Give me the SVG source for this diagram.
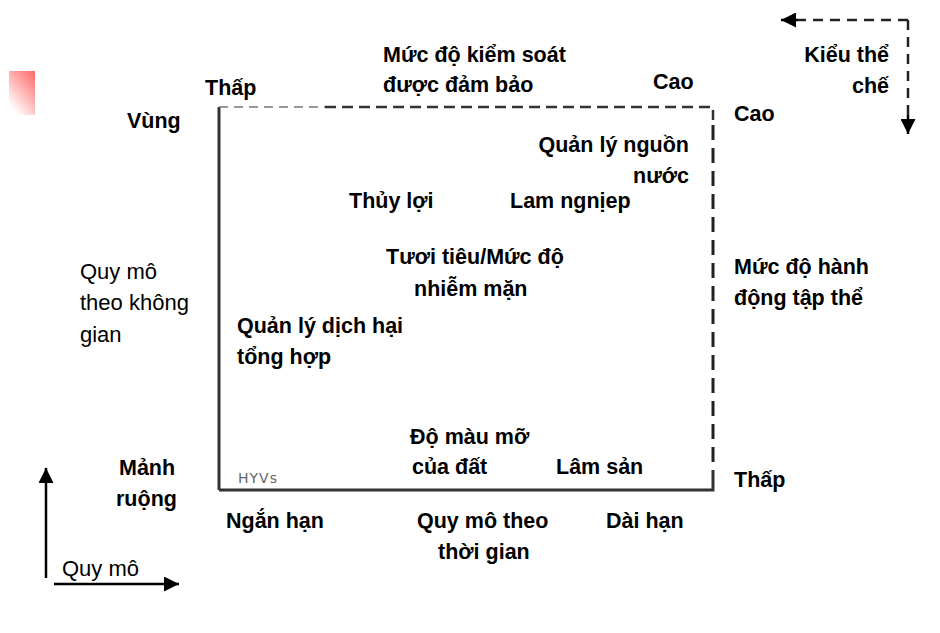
<svg xmlns="http://www.w3.org/2000/svg" width="940" height="633" viewBox="0 0 940 633">
<style>
.b{font-family:"Liberation Sans",Arial,sans-serif;font-weight:bold;font-size:21.5px;fill:#000}
.r{font-family:"Liberation Sans",Arial,sans-serif;font-size:22px;fill:#000}
.e{text-anchor:end}
.g{font-family:"DejaVu Sans","Liberation Sans",sans-serif;font-size:14px;fill:#666;letter-spacing:1px}
</style>
<defs>
<linearGradient id="pk" x1="1" y1="0" x2="0.3" y2="1">
<stop offset="0" stop-color="#f66"/>
<stop offset="1" stop-color="#fff"/>
</linearGradient>
<marker id="ah" viewBox="0 0 10 10" refX="10" refY="5" markerWidth="7" markerHeight="6" orient="auto" markerUnits="strokeWidth">
<path d="M0,0 L10,5 L0,10 z" fill="#000"/>
</marker>
</defs>
<rect width="940" height="633" fill="#fff"/>
<rect x="9" y="71" width="26" height="44" fill="url(#pk)"/>

<g id="connectors" fill="none">
<path d="M219,490 L219,107" stroke="#333" stroke-width="3"/>
<path d="M219,490 L713,490 L713,470" stroke="#333" stroke-width="3"/>
<path d="M219,107 L325,107" stroke="#777" stroke-width="1.5" stroke-dasharray="9,6"/>
<path d="M325,107 L713,107 L713,120" stroke="#333" stroke-width="2.5" stroke-dasharray="11,6"/>
<path d="M713,125 L713,470" stroke="#222" stroke-width="3" stroke-dasharray="15,8"/>
<path d="M908,20 L798,20" stroke="#222" stroke-width="2.5" stroke-dasharray="10,7"/>
<path d="M798,20 L781,20" stroke="#000" stroke-width="2.5" marker-end="url(#ah)"/>
<path d="M908,20 L908,115" stroke="#222" stroke-width="2.5" stroke-dasharray="10,7"/>
<path d="M908,115 L908,134" stroke="#000" stroke-width="2.5" marker-end="url(#ah)"/>
<path d="M46,578 L46,468" stroke="#000" stroke-width="2.5" marker-end="url(#ah)"/>
<path d="M54,584 L179,584" stroke="#000" stroke-width="2.5" marker-end="url(#ah)"/>
</g>

<g id="top-axis">
<text class="b" x="383" y="62">Mức độ kiểm soát</text>
<text class="b" x="383" y="92">được đảm bảo</text>
<text class="b" x="205" y="95">Thấp</text>
<text class="b" x="653" y="89">Cao</text>
</g>
<g id="institution">
<text class="b e" x="889" y="62">Kiểu thể</text>
<text class="b e" x="889" y="93">chế</text>
</g>
<g id="right-axis">
<text class="b" x="734" y="121">Cao</text>
<text class="b" x="734" y="274">Mức độ hành</text>
<text class="b" x="734" y="305">động tập thể</text>
<text class="b" x="734" y="487">Thấp</text>
</g>
<g id="left-axis">
<text class="b" x="127" y="128">Vùng</text>
<text class="r" x="80" y="279">Quy mô</text>
<text class="r" x="80" y="310">theo không</text>
<text class="r" x="80" y="342">gian</text>
<text class="b" x="119" y="475">Mảnh</text>
<text class="b" x="116" y="506">ruộng</text>
</g>
<g id="bottom-axis">
<text class="b" x="226" y="528">Ngắn hạn</text>
<text class="b" x="417" y="528">Quy mô theo</text>
<text class="b" x="438" y="559">thời gian</text>
<text class="b" x="606" y="528">Dài hạn</text>
<text class="r" x="62" y="576">Quy mô</text>
</g>
<g id="n-water">
<text class="b e" x="689" y="152">Quản lý nguồn</text>
<text class="b e" x="689" y="183">nước</text>
</g>
<g id="n-irrigation"><text class="b" x="349" y="208">Thủy lợi</text></g>
<g id="n-forestry"><text class="b" x="510" y="208">Lam ngnịep</text></g>
<g id="n-salinity">
<text class="b" x="386" y="264">Tươi tiêu/Mức độ</text>
<text class="b" x="414" y="296">nhiễm mặn</text>
</g>
<g id="n-ipm">
<text class="b" x="237" y="333">Quản lý dịch hại</text>
<text class="b" x="237" y="364">tổng hợp</text>
</g>
<g id="n-soil">
<text class="b" x="410" y="444">Độ màu mỡ</text>
<text class="b" x="412" y="474">của đất</text>
</g>
<g id="n-forest-products"><text class="b" x="556" y="474">Lâm sản</text></g>
<g id="n-hyvs"><text class="g" x="238" y="483">HYVs</text></g>
</svg>
